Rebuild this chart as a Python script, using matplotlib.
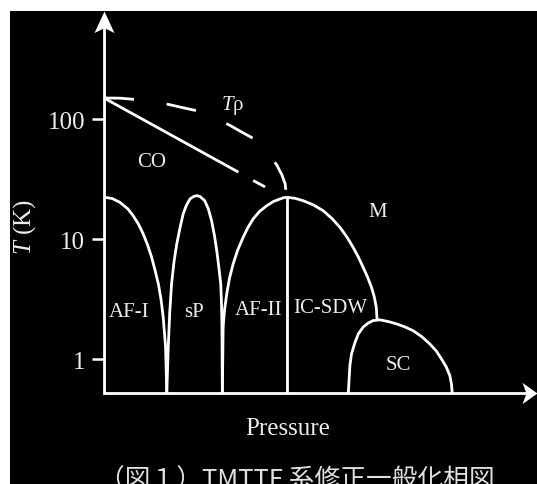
import matplotlib
matplotlib.use('Agg')
import matplotlib.pyplot as plt
from matplotlib.path import Path
from matplotlib.patches import Rectangle
from matplotlib.ticker import NullLocator

plt.rcParams['font.family'] = ['Liberation Serif', 'DejaVu Serif']
plt.rcParams['mathtext.fontset'] = 'custom'
plt.rcParams['mathtext.rm'] = 'Liberation Serif'
plt.rcParams['mathtext.it'] = 'Liberation Serif:italic'

# ---------------- data (pressure in arbitrary units, T in K) ----------------
T_MIN = 0.52
T_MAX = 804
P_MAX = 10.83

yticks = [1, 10, 100]
ytick_labels = ['1', '10', '100']

# AF-I dome
af1_P = [0.00, 0.20, 0.40, 0.60, 0.73, 0.86, 0.98, 1.09, 1.19, 1.275, 1.36,
         1.425, 1.48, 1.54, 1.57]
af1_T = [22.4, 21.9, 20.3, 17.88, 15.7, 13.41, 11.1, 8.97, 7.1, 5.55, 4.24,
         3.18, 2.25, 1.27, 0.52]

# sP dome
sp_P = [1.57, 1.61, 1.645, 1.69, 1.75, 1.82, 1.90, 1.98, 2.06, 2.15, 2.24,
        2.32, 2.40, 2.52, 2.61, 2.69, 2.76, 2.82, 2.87, 2.92, 2.94, 2.95, 2.96]
sp_T = [0.52, 1.34, 2.48, 4.24, 6.47, 9.14, 12.43, 16.25, 19.13, 21.67, 22.74,
        23.09, 22.74, 20.97, 17.88, 14.29, 10.86, 8.04, 5.93, 4.24, 2.84, 1.86, 0.52]

# AF-II dome (rising side)
af2_P = [2.96, 2.98, 3.015, 3.07, 3.14, 3.23, 3.345, 3.48, 3.60, 3.73, 3.89,
         4.07, 4.24, 4.40, 4.49, 4.57]
af2_T = [0.52, 1.85, 2.58, 3.50, 4.76, 6.23, 8.14, 10.39, 12.54, 14.76, 17.05,
         19.05, 20.65, 21.67, 22.18, 22.39]

# AF-II / IC-SDW boundary
bound_P = [4.57, 4.57]
bound_T = [0.52, 22.39]

# IC-SDW dome (falling side)
sdw_P = [4.57, 4.775, 4.98, 5.24, 5.48, 5.70, 5.90, 6.075, 6.23, 6.36, 6.48,
         6.59, 6.69, 6.76, 6.81, 6.83]
sdw_T = [22.39, 21.96, 20.97, 19.32, 17.31, 14.91, 12.59, 10.45, 8.58, 7.12,
         5.85, 4.85, 3.98, 3.31, 2.71, 2.13]

# SC dome
sc_P = [6.11, 6.15, 6.19, 6.28, 6.36, 6.48, 6.60, 6.73, 6.90, 7.10, 7.32,
        7.525, 7.73, 7.95, 8.15, 8.31, 8.44, 8.56, 8.65, 8.69, 8.71]
sc_T = [0.52, 0.885, 1.107, 1.386, 1.625, 1.85, 1.995, 2.10, 2.13, 2.065, 1.97,
        1.86, 1.73, 1.54, 1.34, 1.173, 1.006, 0.863, 0.730, 0.623, 0.52]

# CO boundary (solid part, then one dash)
co_P = [0.00, 3.36]
co_T = [150.5, 36.3]
co_dash_P = [3.73, 4.03]
co_dash_T = [30.9, 27.3]

# T_rho crossover (dashed)
trho_P = [0.00, 0.40, 0.82, 1.15, 1.61, 1.95, 2.32, 2.70, 3.11, 3.45, 3.78,
          3.95, 4.15, 4.32, 4.45, 4.53, 4.57]
trho_T = [150.5, 150.0, 146.0, 141.5, 133.1, 125.4, 117.9, 104.1, 90.5, 78.1,
          67.9, 58.3, 49.6, 41.7, 34.4, 29.0, 22.4]

# phase labels: (text, P, T)
phase_labels = [
    ('CO', 1.18, 41.0),
    ('AF-I', 0.63, 2.31),
    ('sP', 2.25, 2.31),
    ('AF-II', 3.86, 2.39),
    ('IC-SDW', 5.65, 2.46),
    ('M', 6.84, 15.7),
    ('SC', 7.36, 0.83),
]
trho_label = ('$T$ρ', 3.21, 122.0)

x_label = 'Pressure'
y_label = '$T$ (K)'
caption = '（図１）TMTTF 系修正一般化相図'

# ---------------- figure ----------------
W, H = 537, 485
fig = plt.figure(figsize=(W / 100, H / 100), dpi=100, facecolor='white')
fig.patches.append(Rectangle((10 / W, 0), 1 - 10 / W, (H - 12) / H,
                             transform=fig.transFigure, facecolor='black',
                             edgecolor='none', zorder=-1))

ax_left, ax_right = 104, 537
ax_top, ax_bottom = 11.7, 394.3
ax = fig.add_axes([ax_left / W, (H - ax_bottom) / H,
                   (ax_right - ax_left) / W, (ax_bottom - ax_top) / H])
ax.patch.set_visible(False)
for s in ax.spines.values():
    s.set_visible(False)

ax.set_yscale('log')
ax.set_xlim(0, P_MAX)
ax.set_ylim(T_MIN, T_MAX)
ax.set_xticks([])
ax.set_yticks(yticks)
ax.set_yticklabels(ytick_labels)
ax.yaxis.set_minor_locator(NullLocator())
ax.tick_params(axis='y', which='major', direction='out', length=8.6, width=1.8,
               color='white', labelcolor='#ececec', labelsize=18, pad=5)

lw = 2.0
kw = dict(color='white', lw=lw, solid_joinstyle='round', solid_capstyle='butt',
          clip_on=False, zorder=3)
ax.plot(af1_P, af1_T, **kw)
ax.plot(sp_P, sp_T, **kw)
ax.plot(af2_P, af2_T, **kw)
ax.plot(bound_P, bound_T, **kw)
ax.plot(sdw_P, sdw_T, **kw)
ax.plot(sc_P, sc_T, **kw)
ax.plot(co_P, co_T, **kw)
ax.plot(co_dash_P, co_dash_T, **kw)
ax.plot(trho_P, trho_T, color='white', lw=lw, linestyle=(0, (10.8, 11.9)),
        dash_capstyle='butt', dash_joinstyle='round', clip_on=False, zorder=3)

# axes with arrow heads
ax.plot([0, 0, 0.975], [0.96, 0, 0], transform=ax.transAxes, color='white',
        lw=2.0, solid_joinstyle='miter', clip_on=False, zorder=4)
up_arrow = Path([(0, 0), (-10, -21.6), (0, -16.6), (10, -21.6), (0, 0)],
                [Path.MOVETO, Path.LINETO, Path.LINETO, Path.LINETO, Path.CLOSEPOLY])
right_arrow = Path([(0, 0), (-15, 10.7), (-11, 0), (-15, -10.7), (0, 0)],
                   [Path.MOVETO, Path.LINETO, Path.LINETO, Path.LINETO, Path.CLOSEPOLY])
ax.plot([0], [1], marker=up_arrow, markersize=2 * 21.6 * 0.72, color='white',
        markeredgewidth=0, transform=ax.transAxes, clip_on=False, zorder=5)
ax.plot([1], [0], marker=right_arrow, markersize=2 * 15 * 0.72, color='white',
        markeredgewidth=0, transform=ax.transAxes, clip_on=False, zorder=5)

txt_color = '#ececec'
for label, p, t in phase_labels:
    ax.text(p, t, label, color=txt_color, fontsize=15, ha='center', va='baseline')
ax.text(trho_label[1], trho_label[2], trho_label[0], color=txt_color,
        fontsize=15, ha='center', va='baseline')

fig.text(287.5 / W, (H - 435) / H, x_label, color=txt_color, fontsize=18,
         ha='center', va='baseline')
fig.text(25 / W, (H - 227) / H, y_label, color=txt_color, fontsize=18,
         rotation=90, ha='center', va='center')
fig.text(296.5 / W, (H - 487.5) / H, caption, color='#e0e0e0', fontsize=18.5,
         family=['Noto Sans CJK JP', 'DejaVu Sans'], ha='center', va='baseline')

fig.savefig('out.png', dpi=100, facecolor='white')
